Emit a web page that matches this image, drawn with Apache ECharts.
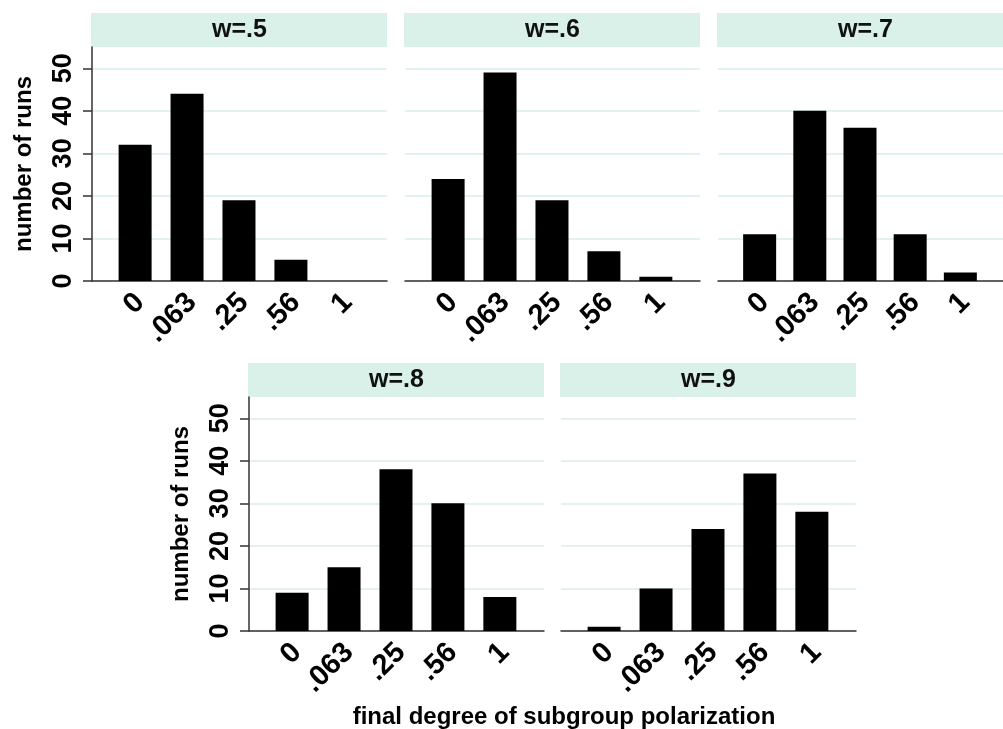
<!DOCTYPE html>
<html>
<head>
<meta charset="utf-8">
<script src="https://cdn.jsdelivr.net/npm/echarts@6/dist/echarts.min.js"></script>
<style>
html,body{margin:0;padding:0;background:#fff;}
#chart{width:1003px;height:729px;}
</style>
</head>
<body>
<div id="chart"></div>
<script>
const categories = ['0', '.063', '.25', '.56', '1'];
const panelTitles = ['w=.5', 'w=.6', 'w=.7', 'w=.8', 'w=.9'];
const w5 = [32, 44, 19, 5, 0];
const w6 = [24, 49, 19, 7, 1];
const w7 = [11, 40, 36, 11, 2];
const w8 = [9, 15, 38, 30, 8];
const w9 = [1, 10, 24, 37, 28];
const yTicks = [0, 10, 20, 30, 40, 50];
const yAxisTitle = 'number of runs';
const xAxisTitle = 'final degree of subgroup polarization';

const seriesValues = [w5, w6, w7, w8, w9];
const layout = [
  {left: 92, top: 47}, {left: 405, top: 47}, {left: 718, top: 47},
  {left: 249, top: 397}, {left: 561, top: 397}
];
const W = 295, H = 234, HEADER = 34;
const FONT = '"Liberation Sans", Arial, Helvetica, sans-serif';
const AXIS_COLOR = '#333333';
const GRID_COLOR = '#e2f2ed';
const HEADER_COLOR = '#daf1ea';

const grids = [], xAxes = [], yAxes = [], series = [], graphics = [];
layout.forEach((p, i) => {
  const showY = (i === 0 || i === 3);
  grids.push({left: p.left, top: p.top, width: W, height: H, containLabel: false});
  xAxes.push({
    type: 'value', gridIndex: i, min: -0.83, max: 4.85,
    axisLine: {show: true, onZero: false, lineStyle: {color: AXIS_COLOR, width: 1.5}},
    axisTick: {show: false},
    splitLine: {show: false},
    axisLabel: {
      customValues: [0, 1, 2, 3, 4],
      formatter: v => categories[Math.round(v)],
      rotate: 45, margin: 12, verticalAlign: 'top', lineHeight: 14,
      fontFamily: FONT, fontSize: 29, fontWeight: 'bold', color: '#000'
    }
  });
  yAxes.push({
    type: 'value', gridIndex: i, min: 0, max: 55,
    name: showY ? yAxisTitle : '',
    nameLocation: 'middle', nameGap: 56, nameRotate: 90,
    nameTextStyle: {fontFamily: FONT, fontSize: 24, fontWeight: 'bold', color: '#000'},
    axisLine: {show: showY, onZero: false, lineStyle: {color: AXIS_COLOR, width: 1.5}},
    axisTick: {show: showY, customValues: yTicks, length: 9, lineStyle: {color: AXIS_COLOR, width: 1.5}},
    axisLabel: {
      show: showY, customValues: yTicks, rotate: 90, margin: 15,
      fontFamily: FONT, fontSize: 27, fontWeight: 'bold', color: '#000'
    },
    splitLine: {show: true, lineStyle: {color: GRID_COLOR, width: 2}}
  });
  series.push({
    type: 'bar', xAxisIndex: i, yAxisIndex: i, barWidth: 33,
    itemStyle: {color: '#000'},
    data: seriesValues[i].map((v, k) => [k, v])
  });
  graphics.push({
    type: 'rect', shape: {x: p.left - 1, y: p.top - HEADER, width: W + 1, height: HEADER},
    style: {fill: HEADER_COLOR}, silent: true
  });
  graphics.push({
    type: 'text', x: p.left + W / 2, y: p.top - HEADER / 2,
    style: {text: panelTitles[i], fontFamily: FONT, fontSize: 25, fontWeight: 'bold',
            fill: '#111', align: 'center', verticalAlign: 'middle'},
    silent: true
  });
});

const chart = echarts.init(document.getElementById('chart'), null, {renderer: 'canvas'});
chart.setOption({
  animation: false,
  backgroundColor: '#fff',
  title: {
    text: xAxisTitle, left: 559, top: 700, textAlign: 'center',
    textStyle: {fontFamily: FONT, fontSize: 24, fontWeight: 'bold', color: '#000'}
  },
  grid: grids, xAxis: xAxes, yAxis: yAxes, series: series,
  graphic: graphics
});
</script>
</body>
</html>
